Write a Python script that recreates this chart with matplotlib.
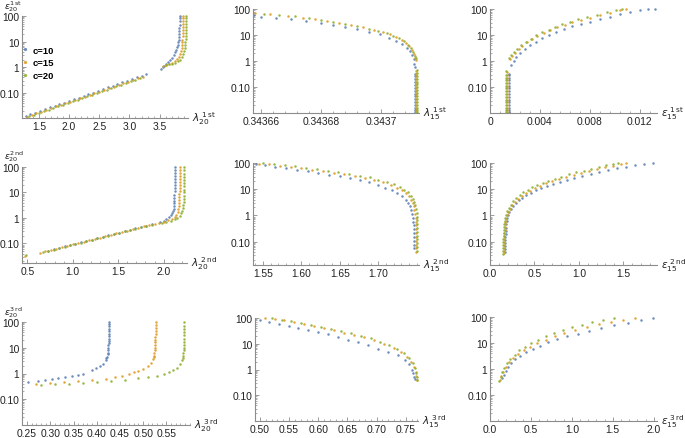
"""3x3 grid of log-scale dispersion curves: lambda and epsilon for c = 10, 15, 20."""
import matplotlib
matplotlib.use("Agg")
import matplotlib.pyplot as plt
from matplotlib.ticker import FixedLocator, LogLocator, NullFormatter, AutoMinorLocator

plt.rcParams["font.family"] = ["Liberation Sans", "DejaVu Sans"]
plt.rcParams["mathtext.fontset"] = "dejavusans"

W, H = 685, 439
BLUE, ORANGE, GREEN = "#5E81B5", "#E19C24", "#8FB032"
AXIS = "#8c8c8c"
TXT = "#222222"

legend_labels = ["c=10", "c=15", "c=20"]
y_ticks = [0.1, 1, 10, 100]
y_tick_labels = ["0.10", "1", "10", "100"]

# ---------------- row 1 ----------------
r1c1_c10 = [(1.28, 0.0125), (1.36, 0.0148), (1.44, 0.017), (1.52, 0.02), (1.60, 0.023), (1.68, 0.027),
            (1.76, 0.031), (1.84, 0.036), (1.92, 0.042), (2.00, 0.049), (2.08, 0.056), (2.16, 0.066),
            (2.24, 0.076), (2.32, 0.089), (2.40, 0.102), (2.48, 0.12), (2.56, 0.14), (2.64, 0.163),
            (2.72, 0.19), (2.80, 0.22), (2.88, 0.255), (2.96, 0.30), (3.04, 0.345), (3.12, 0.40),
            (3.20, 0.46), (3.28, 0.53),
            (3.52, 0.88), (3.55, 1.0), (3.58, 1.15), (3.61, 1.35), (3.64, 1.6), (3.67, 1.95), (3.70, 2.4),
            (3.73, 3.0), (3.755, 3.8), (3.775, 4.8), (3.79, 6.0), (3.80, 7.5), (3.81, 9.5), (3.815, 12),
            (3.82, 15), (3.823, 19), (3.826, 25), (3.828, 33), (3.83, 45), (3.831, 62), (3.832, 85),
            (3.833, 100)]
r1c1_c15 = [(1.30, 0.012), (1.38, 0.014), (1.46, 0.0162), (1.54, 0.0188), (1.62, 0.0219), (1.70, 0.0254),
            (1.78, 0.0295), (1.86, 0.0342), (1.94, 0.0397), (2.02, 0.0461), (2.10, 0.0536), (2.18, 0.0622),
            (2.26, 0.0722), (2.34, 0.0838), (2.42, 0.0973), (2.50, 0.113), (2.58, 0.131), (2.66, 0.152),
            (2.74, 0.177), (2.82, 0.205), (2.90, 0.238), (2.98, 0.276), (3.06, 0.321), (3.14, 0.372),
            (3.22, 0.432),
            (3.56, 1.15), (3.61, 1.22), (3.66, 1.32), (3.71, 1.48), (3.75, 1.7), (3.79, 2.05), (3.82, 2.6),
            (3.84, 3.3), (3.855, 4.3), (3.865, 5.6), (3.87, 7.2), (3.875, 9.3), (3.877, 12), (3.879, 16),
            (3.88, 21), (3.881, 28), (3.882, 37), (3.883, 50), (3.884, 66), (3.884, 85), (3.885, 100)]
r1c1_c20 = [(1.34, 0.0123), (1.42, 0.0143), (1.50, 0.0166), (1.58, 0.0193), (1.66, 0.0224), (1.74, 0.026),
            (1.82, 0.0302), (1.90, 0.035), (1.98, 0.0406), (2.06, 0.0472), (2.14, 0.0548), (2.22, 0.0636),
            (2.30, 0.0738), (2.38, 0.0857), (2.46, 0.0995), (2.54, 0.116), (2.62, 0.134), (2.70, 0.156),
            (2.78, 0.181), (2.86, 0.21), (2.94, 0.243), (3.02, 0.283), (3.10, 0.329), (3.18, 0.381),
            (3.60, 1.28), (3.65, 1.33), (3.70, 1.4), (3.75, 1.52), (3.80, 1.7), (3.84, 2.0), (3.87, 2.5),
            (3.89, 3.2), (3.905, 4.2), (3.915, 5.5), (3.922, 7.2), (3.926, 9.5), (3.929, 12.5),
            (3.931, 16.5), (3.933, 22), (3.934, 29), (3.935, 38), (3.936, 50), (3.937, 66), (3.937, 85),
            (3.938, 100)]

r1c2_c10 = [(0.3436578, 60), (0.3436600, 48), (0.3436650, 44), (0.3436700, 40), (0.3436750, 36),
            (0.3436800, 30), (0.3436840, 25), (0.3436880, 21), (0.3436920, 17), (0.3436960, 13.5),
            (0.3436995, 10.5), (0.3437025, 8), (0.3437050, 6), (0.3437070, 4.5), (0.3437085, 3.3),
            (0.3437095, 2.4), (0.3437103, 1.7), (0.3437108, 1.15), (0.3437110, 0.8), (0.3437111, 0.6),
            (0.3437112, 0.33), (0.3437112, 0.26), (0.3437112, 0.2), (0.3437112, 0.155), (0.3437112, 0.12),
            (0.3437112, 0.093), (0.3437112, 0.072), (0.3437112, 0.056), (0.3437112, 0.044),
            (0.3437112, 0.034), (0.3437112, 0.026), (0.3437112, 0.02), (0.3437112, 0.016),
            (0.3437112, 0.0125), (0.3437112, 0.0105)]
r1c2_c15 = [(0.3436580, 70), (0.3436630, 64), (0.3436690, 56), (0.3436740, 46), (0.3436780, 40),
            (0.3436820, 34), (0.3436860, 28), (0.3436900, 23.5), (0.3436940, 19.5), (0.3436975, 16),
            (0.3437005, 13), (0.3437030, 10.5), (0.3437050, 8.5), (0.3437068, 6.6), (0.3437082, 5),
            (0.3437093, 3.7), (0.3437102, 2.7), (0.3437108, 1.9), (0.3437112, 1.35), (0.3437114, 1.1),
            (0.3437116, 0.42), (0.3437116, 0.33), (0.3437116, 0.26), (0.3437116, 0.2), (0.3437116, 0.155),
            (0.3437116, 0.12), (0.3437116, 0.093), (0.3437116, 0.072), (0.3437116, 0.056),
            (0.3437116, 0.044), (0.3437116, 0.034), (0.3437116, 0.026), (0.3437116, 0.02),
            (0.3437116, 0.016), (0.3437116, 0.0125), (0.3437116, 0.0105)]
r1c2_c20 = [(0.3436610, 66), (0.3436660, 60), (0.3436715, 52), (0.3436760, 44), (0.3436800, 37),
            (0.3436840, 31), (0.3436880, 26), (0.3436920, 21.5), (0.3436960, 17.5), (0.3436990, 14.5),
            (0.3437020, 11.5), (0.3437040, 9.5), (0.3437060, 7.5), (0.3437076, 5.8), (0.3437088, 4.3),
            (0.3437098, 3.2), (0.3437106, 2.3), (0.3437111, 1.6), (0.3437115, 1.25),
            (0.3437120, 0.45), (0.3437120, 0.35), (0.3437120, 0.27), (0.3437120, 0.21), (0.3437120, 0.16),
            (0.3437120, 0.125), (0.3437120, 0.097), (0.3437120, 0.075), (0.3437120, 0.058),
            (0.3437120, 0.045), (0.3437120, 0.035), (0.3437120, 0.027), (0.3437120, 0.021),
            (0.3437120, 0.016), (0.3437120, 0.0125), (0.3437120, 0.0105)]

r1c3_c10 = [(0.00155, 0.0105), (0.00155, 0.0125), (0.00155, 0.016), (0.00155, 0.02), (0.00155, 0.026),
            (0.00155, 0.033), (0.00155, 0.042), (0.00155, 0.054), (0.00155, 0.069), (0.00155, 0.088),
            (0.00155, 0.11), (0.00155, 0.14), (0.00155, 0.18), (0.00155, 0.23), (0.00155, 0.28),
            (0.00155, 0.33),
            (0.0017, 0.7), (0.0019, 1.0), (0.0021, 1.4), (0.0024, 2.0), (0.0028, 2.9), (0.0032, 4.0),
            (0.0037, 5.5), (0.0042, 7.5), (0.0047, 10), (0.0053, 13), (0.0059, 17), (0.0066, 21.5),
            (0.0073, 27), (0.0080, 33), (0.0088, 41), (0.0096, 51), (0.0104, 62), (0.0112, 75),
            (0.0120, 88), (0.0127, 96), (0.0132, 100)]
r1c3_c15 = [(0.00139, 0.0105), (0.00139, 0.0125), (0.00139, 0.016), (0.00139, 0.02), (0.00139, 0.026),
            (0.00139, 0.033), (0.00139, 0.042), (0.00139, 0.054), (0.00139, 0.069), (0.00139, 0.088),
            (0.00139, 0.11), (0.00139, 0.14), (0.00139, 0.18), (0.00139, 0.23), (0.00139, 0.29),
            (0.00139, 0.38),
            (0.0016, 1.2), (0.0018, 1.6), (0.0020, 2.1), (0.0023, 2.9), (0.0026, 3.9), (0.0030, 5.2),
            (0.0034, 7), (0.0038, 9.3), (0.0043, 12), (0.0048, 15.5), (0.0054, 20), (0.0060, 25),
            (0.0066, 31), (0.0073, 38), (0.0080, 47), (0.0088, 58), (0.0096, 72), (0.0104, 88),
            (0.0109, 100)]
r1c3_c20 = [(0.00128, 0.0105), (0.00128, 0.0125), (0.00128, 0.016), (0.00128, 0.02), (0.00128, 0.026),
            (0.00128, 0.033), (0.00128, 0.042), (0.00128, 0.054), (0.00128, 0.069), (0.00128, 0.088),
            (0.00128, 0.11), (0.00128, 0.14), (0.00128, 0.18), (0.00128, 0.23), (0.00128, 0.3),
            (0.00128, 0.42),
            (0.0015, 1.25), (0.0017, 1.7), (0.0019, 2.2), (0.0022, 3.0), (0.0025, 4.0), (0.0029, 5.4),
            (0.0033, 7.2), (0.0037, 9.6), (0.0042, 12.5), (0.0047, 16), (0.0052, 20.5), (0.0058, 26),
            (0.0064, 32), (0.0071, 40), (0.0078, 49), (0.0086, 60), (0.0094, 74), (0.0101, 90),
            (0.0106, 100)]

# ---------------- row 2 ----------------
r2c1_c10 = [(0.73, 0.052), (0.79, 0.059), (0.85, 0.067), (0.91, 0.076), (0.97, 0.086), (1.03, 0.097),
            (1.09, 0.11), (1.15, 0.125), (1.21, 0.142), (1.27, 0.161), (1.33, 0.183), (1.39, 0.207),
            (1.45, 0.235), (1.51, 0.266), (1.57, 0.302), (1.63, 0.342), (1.69, 0.388), (1.75, 0.44),
            (1.81, 0.50), (1.87, 0.565),
            (1.96, 0.68), (2.00, 0.78), (2.03, 0.9), (2.06, 1.05), (2.08, 1.25), (2.095, 1.5),
            (2.105, 1.85), (2.11, 2.3), (2.114, 2.9), (2.116, 3.7), (2.117, 4.8), (2.118, 6.3),
            (2.119, 8.3), (2.12, 11), (2.12, 14.5), (2.121, 19), (2.121, 25), (2.122, 33), (2.122, 44),
            (2.122, 58), (2.123, 76), (2.123, 100)]
r2c1_c15 = [(0.47, 0.032), (0.64, 0.0427), (0.70, 0.0484), (0.76, 0.0548), (0.82, 0.0622), (0.88, 0.0705),
            (0.94, 0.080), (1.00, 0.0907), (1.06, 0.1028), (1.12, 0.1166), (1.18, 0.1322), (1.24, 0.150),
            (1.30, 0.170), (1.36, 0.193), (1.42, 0.219), (1.48, 0.248), (1.54, 0.281), (1.60, 0.319),
            (1.66, 0.362), (1.72, 0.41), (1.78, 0.465), (1.84, 0.527), (1.90, 0.598),
            (1.95, 0.62), (2.00, 0.7), (2.05, 0.8), (2.09, 0.93), (2.12, 1.1), (2.14, 1.35),
            (2.155, 1.7), (2.163, 2.2), (2.168, 2.9), (2.17, 3.8), (2.172, 5), (2.173, 6.6),
            (2.174, 8.7), (2.175, 11.5), (2.175, 15), (2.176, 20), (2.176, 26), (2.177, 35),
            (2.177, 46), (2.177, 60), (2.178, 78), (2.178, 100)]
r2c1_c20 = [(0.49, 0.035), (0.67, 0.0445), (0.73, 0.0505), (0.79, 0.0572), (0.85, 0.065), (0.91, 0.0736),
            (0.97, 0.0835), (1.03, 0.0947), (1.09, 0.107), (1.15, 0.122), (1.21, 0.138), (1.27, 0.157),
            (1.33, 0.178), (1.39, 0.202), (1.45, 0.229), (1.51, 0.26), (1.57, 0.294), (1.63, 0.334),
            (1.69, 0.378), (1.75, 0.429), (1.81, 0.487), (1.87, 0.552),
            (1.98, 0.62), (2.03, 0.68), (2.08, 0.76), (2.12, 0.87), (2.15, 1.0), (2.175, 1.2),
            (2.195, 1.5), (2.207, 1.9), (2.214, 2.5), (2.218, 3.3), (2.22, 4.3), (2.222, 5.7),
            (2.223, 7.5), (2.224, 10), (2.225, 13), (2.225, 17.5), (2.226, 23), (2.226, 31),
            (2.227, 41), (2.227, 55), (2.227, 73), (2.228, 100)]

r2c2_c10 = [(1.541, 92), (1.553, 82), (1.566, 72), (1.580, 63), (1.594, 55), (1.608, 48), (1.622, 42),
            (1.636, 36), (1.650, 31), (1.663, 26.5), (1.676, 22), (1.688, 18), (1.699, 14.5),
            (1.709, 11.5), (1.718, 9), (1.725, 7), (1.731, 5.3), (1.736, 4), (1.739, 3), (1.741, 2.2),
            (1.743, 1.6), (1.744, 1.15), (1.745, 0.82), (1.7455, 0.58), (1.746, 0.42), (1.746, 0.3),
            (1.746, 0.21), (1.746, 0.15), (1.746, 0.105), (1.746, 0.075), (1.746, 0.055)]
r2c2_c15 = [(1.545, 95), (1.558, 88), (1.572, 80), (1.586, 71), (1.600, 63), (1.614, 56), (1.628, 49),
            (1.642, 43), (1.656, 37), (1.670, 31.5), (1.683, 26.5), (1.695, 22), (1.706, 18),
            (1.716, 14.5), (1.724, 11.5), (1.731, 9), (1.736, 7), (1.740, 5.3), (1.743, 4), (1.745, 3),
            (1.746, 2.2), (1.747, 1.6), (1.748, 1.15), (1.7485, 0.82), (1.749, 0.58), (1.749, 0.42),
            (1.749, 0.3), (1.749, 0.21), (1.749, 0.15), (1.749, 0.105), (1.749, 0.075), (1.749, 0.055),
            (1.749, 0.04)]
r2c2_c20 = [(1.550, 100), (1.564, 92), (1.578, 83), (1.592, 74), (1.606, 66), (1.620, 58), (1.634, 51),
            (1.648, 45), (1.662, 39), (1.676, 33), (1.689, 28), (1.700, 23), (1.711, 19), (1.720, 15.5),
            (1.728, 12.3), (1.734, 9.6), (1.739, 7.5), (1.742, 5.7), (1.745, 4.3), (1.747, 3.2),
            (1.748, 2.4), (1.749, 1.75), (1.750, 1.25), (1.7503, 0.9), (1.7505, 0.65), (1.7507, 0.46),
            (1.7508, 0.33), (1.751, 0.24), (1.751, 0.17), (1.751, 0.12), (1.751, 0.085), (1.751, 0.06),
            (1.751, 0.045)]

r2c3_c10 = [(0.17, 0.04), (0.17, 0.052), (0.17, 0.068), (0.171, 0.088), (0.172, 0.115), (0.173, 0.15),
            (0.175, 0.2), (0.177, 0.26), (0.18, 0.34), (0.184, 0.45), (0.188, 0.6),
            (0.19, 0.8), (0.20, 1.0), (0.215, 1.3), (0.235, 1.7), (0.26, 2.2), (0.29, 2.9), (0.325, 3.7),
            (0.365, 4.7), (0.41, 5.9), (0.46, 7.3), (0.515, 9), (0.575, 11), (0.64, 13.3), (0.71, 16),
            (0.785, 19), (0.865, 22.5), (0.95, 27), (1.04, 32), (1.135, 38), (1.23, 45), (1.33, 53),
            (1.43, 62), (1.53, 72), (1.63, 82), (1.73, 91), (1.835, 100)]
r2c3_c15 = [(0.16, 0.035), (0.16, 0.045), (0.16, 0.058), (0.16, 0.075), (0.161, 0.097), (0.161, 0.125),
            (0.162, 0.16), (0.163, 0.21), (0.165, 0.27), (0.167, 0.35), (0.17, 0.45), (0.174, 0.58),
            (0.18, 0.75), (0.19, 1.0), (0.205, 1.35), (0.225, 1.8), (0.25, 2.4), (0.28, 3.2),
            (0.315, 4.2), (0.355, 5.5), (0.40, 7), (0.45, 8.8), (0.505, 11), (0.565, 13.5), (0.63, 16.5),
            (0.70, 20), (0.775, 24), (0.855, 29), (0.94, 35), (1.03, 42), (1.12, 50), (1.21, 59),
            (1.30, 69), (1.39, 80), (1.47, 90), (1.53, 97)]
r2c3_c20 = [(0.15, 0.033), (0.15, 0.043), (0.15, 0.056), (0.15, 0.073), (0.151, 0.095), (0.151, 0.123),
            (0.152, 0.16), (0.153, 0.21), (0.155, 0.27), (0.157, 0.35), (0.16, 0.46), (0.164, 0.6),
            (0.17, 0.78), (0.18, 1.05), (0.193, 1.42), (0.212, 1.9), (0.235, 2.55), (0.263, 3.4),
            (0.296, 4.5), (0.334, 5.9), (0.376, 7.5), (0.423, 9.4), (0.475, 11.7), (0.531, 14.3),
            (0.592, 17.5), (0.658, 21), (0.729, 25.5), (0.804, 30.5), (0.884, 36.5), (0.968, 43.5),
            (1.053, 51.5), (1.137, 60.5), (1.222, 71), (1.307, 82), (1.38, 92), (1.44, 99)]

# ---------------- row 3 ----------------
r3c1_c10 = [(0.253, 0.45), (0.274, 0.5), (0.289, 0.55), (0.303, 0.6), (0.317, 0.65), (0.332, 0.72),
            (0.346, 0.8), (0.360, 0.88), (0.371, 0.98),
            (0.389, 1.4), (0.398, 1.6), (0.407, 1.9), (0.414, 2.4), (0.419, 3.2), (0.421, 3.9),
            (0.422, 4.5), (0.4235, 5.5), (0.424, 6.5), (0.4245, 8), (0.425, 10), (0.4253, 12.5),
            (0.4255, 15), (0.4257, 18.5), (0.426, 22), (0.426, 28), (0.426, 35), (0.426, 44),
            (0.426, 55), (0.426, 67), (0.426, 80), (0.426, 100)]
r3c1_c15 = [(0.27, 0.38), (0.30, 0.42), (0.33, 0.46), (0.36, 0.5), (0.39, 0.55), (0.42, 0.62),
            (0.44, 0.72), (0.455, 0.82), (0.47, 0.95), (0.48, 1.1), (0.49, 1.3), (0.50, 1.55),
            (0.51, 1.9), (0.517, 2.5), (0.521, 3.5), (0.523, 4.2), (0.524, 5), (0.5245, 6.3),
            (0.525, 8), (0.5255, 10), (0.526, 13), (0.526, 16), (0.526, 20), (0.5265, 26),
            (0.527, 35), (0.527, 45), (0.527, 60), (0.527, 78), (0.527, 100)]
r3c1_c20 = [(0.28, 0.35), (0.31, 0.38), (0.34, 0.4), (0.37, 0.43), (0.40, 0.47), (0.43, 0.52),
            (0.46, 0.58), (0.49, 0.65), (0.51, 0.72), (0.53, 0.82), (0.545, 0.95), (0.555, 1.1),
            (0.565, 1.35), (0.573, 1.7), (0.579, 2.3), (0.583, 3.3), (0.585, 4.1), (0.586, 5),
            (0.5865, 6.4), (0.587, 8), (0.5875, 10), (0.588, 13), (0.588, 17), (0.588, 22),
            (0.588, 30), (0.588, 40), (0.588, 53), (0.588, 70), (0.588, 100)]

r3c2_c10 = [(0.500, 81), (0.515, 70), (0.532, 60), (0.549, 50), (0.566, 42), (0.583, 35), (0.600, 29),
            (0.617, 23), (0.634, 18), (0.651, 14.5), (0.668, 11.5), (0.685, 9), (0.702, 6.5),
            (0.719, 4.8), (0.736, 3.5), (0.748, 2.4), (0.756, 1.6), (0.761, 1.0), (0.763, 0.7),
            (0.764, 0.5), (0.765, 0.42)]
r3c2_c15 = [(0.508, 100), (0.525, 90), (0.542, 80), (0.559, 68), (0.576, 57), (0.593, 48), (0.610, 40),
            (0.627, 33), (0.644, 27), (0.661, 22), (0.678, 17.5), (0.695, 13.5), (0.712, 10),
            (0.729, 7), (0.742, 4.8), (0.752, 3.1), (0.759, 2), (0.764, 1.3), (0.767, 0.8),
            (0.768, 0.55), (0.769, 0.4)]
r3c2_c20 = [(0.520, 97), (0.537, 86), (0.554, 75), (0.571, 64), (0.588, 54), (0.605, 45), (0.622, 38),
            (0.639, 31), (0.656, 25.5), (0.673, 20.5), (0.690, 16), (0.706, 12), (0.721, 8.8),
            (0.735, 6.2), (0.747, 4.2), (0.756, 2.8), (0.762, 1.8), (0.766, 1.15), (0.768, 0.75),
            (0.769, 0.5), (0.770, 0.38)]

r3c3_c10 = [(0.15, 0.45), (0.17, 0.6), (0.19, 0.85), (0.22, 1.2), (0.26, 1.7), (0.31, 2.4), (0.37, 3.3),
            (0.44, 4.5), (0.52, 6), (0.61, 8), (0.71, 10.5), (0.82, 14), (0.94, 18), (1.07, 23),
            (1.21, 30), (1.36, 38), (1.52, 48), (1.68, 60), (1.84, 75), (1.99, 88)]
r3c3_c15 = [(0.12, 0.38), (0.14, 0.55), (0.16, 0.8), (0.19, 1.2), (0.23, 1.8), (0.28, 2.6), (0.34, 3.7),
            (0.41, 5.2), (0.49, 7.2), (0.58, 10), (0.68, 13.5), (0.79, 18), (0.91, 24), (1.04, 31),
            (1.18, 40), (1.33, 52), (1.48, 66), (1.62, 80), (1.77, 95)]
r3c3_c20 = [(0.11, 0.35), (0.13, 0.5), (0.15, 0.75), (0.17, 1.1), (0.21, 1.7), (0.25, 2.5), (0.30, 3.6),
            (0.36, 5.2), (0.43, 7.3), (0.50, 10), (0.59, 13.5), (0.68, 18), (0.78, 24), (0.89, 31),
            (1.00, 40), (1.12, 50), (1.25, 62), (1.38, 76), (1.51, 92)]

# x ticks per panel
r1c1_xt = [1.5, 2.0, 2.5, 3.0, 3.5]
r1c2_xt = [0.34366, 0.34368, 0.34370]
r1c2_xtl = ["0.34366", "0.34368", "0.3437"]
r1c3_xt = [0, 0.004, 0.008, 0.012]
r1c3_xtl = ["0", "0.004", "0.008", "0.012"]
r2c1_xt = [0.5, 1.0, 1.5, 2.0]
r2c2_xt = [1.55, 1.60, 1.65, 1.70]
r2c3_xt = [0.0, 0.5, 1.0, 1.5]
r3c1_xt = [0.25, 0.30, 0.35, 0.40, 0.45, 0.50, 0.55]
r3c2_xt = [0.50, 0.55, 0.60, 0.65, 0.70, 0.75]
r3c3_xt = [0.0, 0.5, 1.0, 1.5, 2.0]


def fmt(vals, nd):
    return [f"{v:.{nd}f}" for v in vals]


fig = plt.figure(figsize=(W / 100, H / 100), dpi=100)


def panel(box, xlim, ylim, xt, xtl, xlabel, series, ylabel=None, legend=False):
    l, t, r, b = box
    ax = fig.add_axes([l / W, 1 - b / H, (r - l) / W, (b - t) / H])
    for pts, col, lab in zip(series, (BLUE, ORANGE, GREEN), legend_labels):
        xs = [p[0] for p in pts]
        ys = [p[1] for p in pts]
        ax.plot(xs, ys, ls="none", marker="o", ms=1.8, mew=0, color=col, alpha=0.9,
                clip_on=False, label=lab)
    ax.set_yscale("log")
    ax.set_xlim(*xlim)
    ax.set_ylim(*ylim)
    ax.yaxis.set_major_locator(FixedLocator(y_ticks))
    ax.set_yticklabels(y_tick_labels)
    ax.yaxis.set_minor_locator(LogLocator(base=10, subs=range(2, 10)))
    ax.yaxis.set_minor_formatter(NullFormatter())
    ax.set_xticks(xt)
    ax.set_xticklabels(xtl)
    ax.xaxis.set_minor_locator(AutoMinorLocator(5))
    for s in ("top", "right"):
        ax.spines[s].set_visible(False)
    for s in ("left", "bottom"):
        ax.spines[s].set_color(AXIS)
        ax.spines[s].set_linewidth(0.8)
    ax.tick_params(which="major", direction="in", length=3.2, width=0.6, color=AXIS,
                   labelsize=7.4, labelcolor=TXT, pad=2)
    ax.tick_params(which="minor", direction="in", length=1.6, width=0.5, color=AXIS)
    ax.patch.set_alpha(0)
    ax.annotate(xlabel, xy=(1, 0), xycoords="axes fraction", xytext=(4, -3),
                textcoords="offset pixels", ha="left", va="baseline", fontsize=7.6, color=TXT)
    if ylabel:
        ax.annotate(ylabel, xy=(0, 1), xycoords="axes fraction", xytext=(-18, 8),
                    textcoords="offset pixels", ha="left", va="baseline", fontsize=6.6, color=TXT)
    if legend:
        ax.legend(loc="upper left", bbox_to_anchor=(0.0, 0.71), frameon=False,
                  handlelength=0.7, handletextpad=0.4, labelspacing=0.4, borderpad=0,
                  borderaxespad=0, markerscale=1.3, prop={"weight": "bold", "size": 6.8})
    return ax


panel((22, 17, 188, 119), (1.22, 3.97), (0.0105, 100), r1c1_xt, fmt(r1c1_xt, 1),
      r"$\lambda_{20}^{\ 1\,\mathrm{st}}$", (r1c1_c10, r1c1_c15, r1c1_c20),
      ylabel=r"$\epsilon_{20}^{1\,\mathrm{st}}$", legend=True)
panel((253, 10, 419, 114), (0.3436574, 0.3437125), (0.01, 100), r1c2_xt, r1c2_xtl,
      r"$\lambda_{15}^{\ 1\,\mathrm{st}}$", (r1c2_c10, r1c2_c15, r1c2_c20))
panel((490, 10, 657, 114), (0.0, 0.0134), (0.01, 100), r1c3_xt, r1c3_xtl,
      r"$\epsilon_{15}^{\ 1\,\mathrm{st}}$", (r1c3_c10, r1c3_c15, r1c3_c20))

panel((22, 168, 187, 264), (0.442, 2.257), (0.017, 100), r2c1_xt, fmt(r2c1_xt, 1),
      r"$\lambda_{20}^{\ 2\,\mathrm{nd}}$", (r2c1_c10, r2c1_c15, r2c1_c20),
      ylabel=r"$\epsilon_{20}^{2\,\mathrm{nd}}$")
panel((253, 164, 419, 266), (1.537, 1.753), (0.0127, 100), r2c2_xt, fmt(r2c2_xt, 2),
      r"$\lambda_{15}^{\ 2\,\mathrm{nd}}$", (r2c2_c10, r2c2_c15, r2c2_c20))
panel((490, 164, 657, 266), (0.0, 1.88), (0.0127, 100), r2c3_xt, fmt(r2c3_xt, 1),
      r"$\epsilon_{15}^{\ 2\,\mathrm{nd}}$", (r2c3_c10, r2c3_c15, r2c3_c20))

panel((22, 323, 190, 426), (0.239, 0.601), (0.01, 100), r3c1_xt, fmt(r3c1_xt, 2),
      r"$\lambda_{20}^{\ 3\,\mathrm{rd}}$", (r3c1_c10, r3c1_c15, r3c1_c20),
      ylabel=r"$\epsilon_{20}^{3\,\mathrm{rd}}$")
panel((255, 319, 418, 422), (0.4915, 0.771), (0.01, 100), r3c2_xt, fmt(r3c2_xt, 2),
      r"$\lambda_{15}^{\ 3\,\mathrm{rd}}$", (r3c2_c10, r3c2_c15, r3c2_c20))
panel((490, 318, 657, 422), (0.0, 2.04), (0.01, 100), r3c3_xt, fmt(r3c3_xt, 1),
      r"$\epsilon_{15}^{\ 3\,\mathrm{rd}}$", (r3c3_c10, r3c3_c15, r3c3_c20))

fig.savefig("out.png", dpi=100, facecolor="white")
